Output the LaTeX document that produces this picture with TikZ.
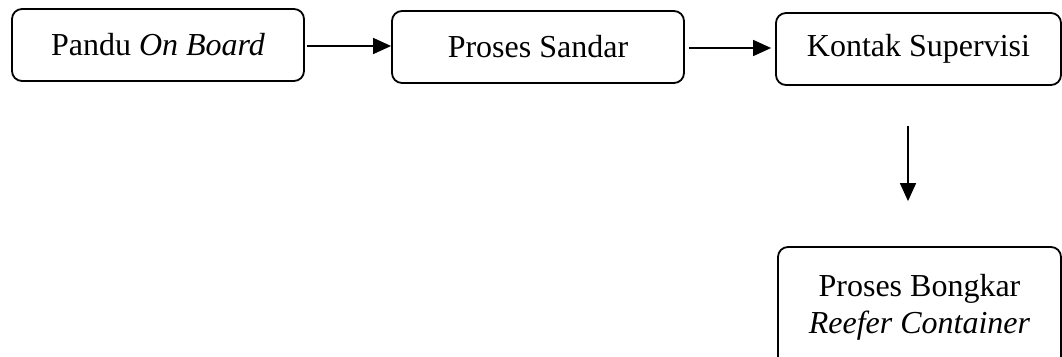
\documentclass[tikz,border=0pt]{standalone}
\usepackage{fontspec}
\setmainfont{Liberation Serif}
\usetikzlibrary{arrows.meta}
\begin{document}
\begin{tikzpicture}[x=1pt,y=-1pt,
  box/.style={draw,line width=1.8pt,rounded corners=10pt,inner sep=0pt,
    font=\fontsize{32}{36}\selectfont,align=center},
  conn/.style={line width=1.5pt,-{Triangle[length=18pt,width=16pt]}}]
\useasboundingbox (0,0) rectangle (1062,356);
\node[box,minimum width=292pt,minimum height=72pt] (b1) at (158,45) {Pandu \textit{On Board}};
\node[box,minimum width=292pt,minimum height=72pt] (b2) at (538,47) {Proses Sandar};
\node[box,minimum width=285pt,minimum height=72pt] (b3) at (918.5,49) {Kontak Supervisi};
\node[box,minimum width=283pt,minimum height=120pt] (b4) at (919.5,307) {Proses Bongkar\\[1pt]\textit{Reefer Container}};
\draw[conn,shorten <=2pt] (b1.east |- 0,46) -- (b2.west |- 0,46);
\draw[conn,shorten <=4pt,shorten >=4pt] (b2.east |- 0,48) -- (b3.west |- 0,48);
\draw[conn,shorten <=40pt,shorten >=45pt] ([xshift=-10.5pt]b3.south) -- ([xshift=-11.5pt]b4.north);
\end{tikzpicture}
\end{document}
